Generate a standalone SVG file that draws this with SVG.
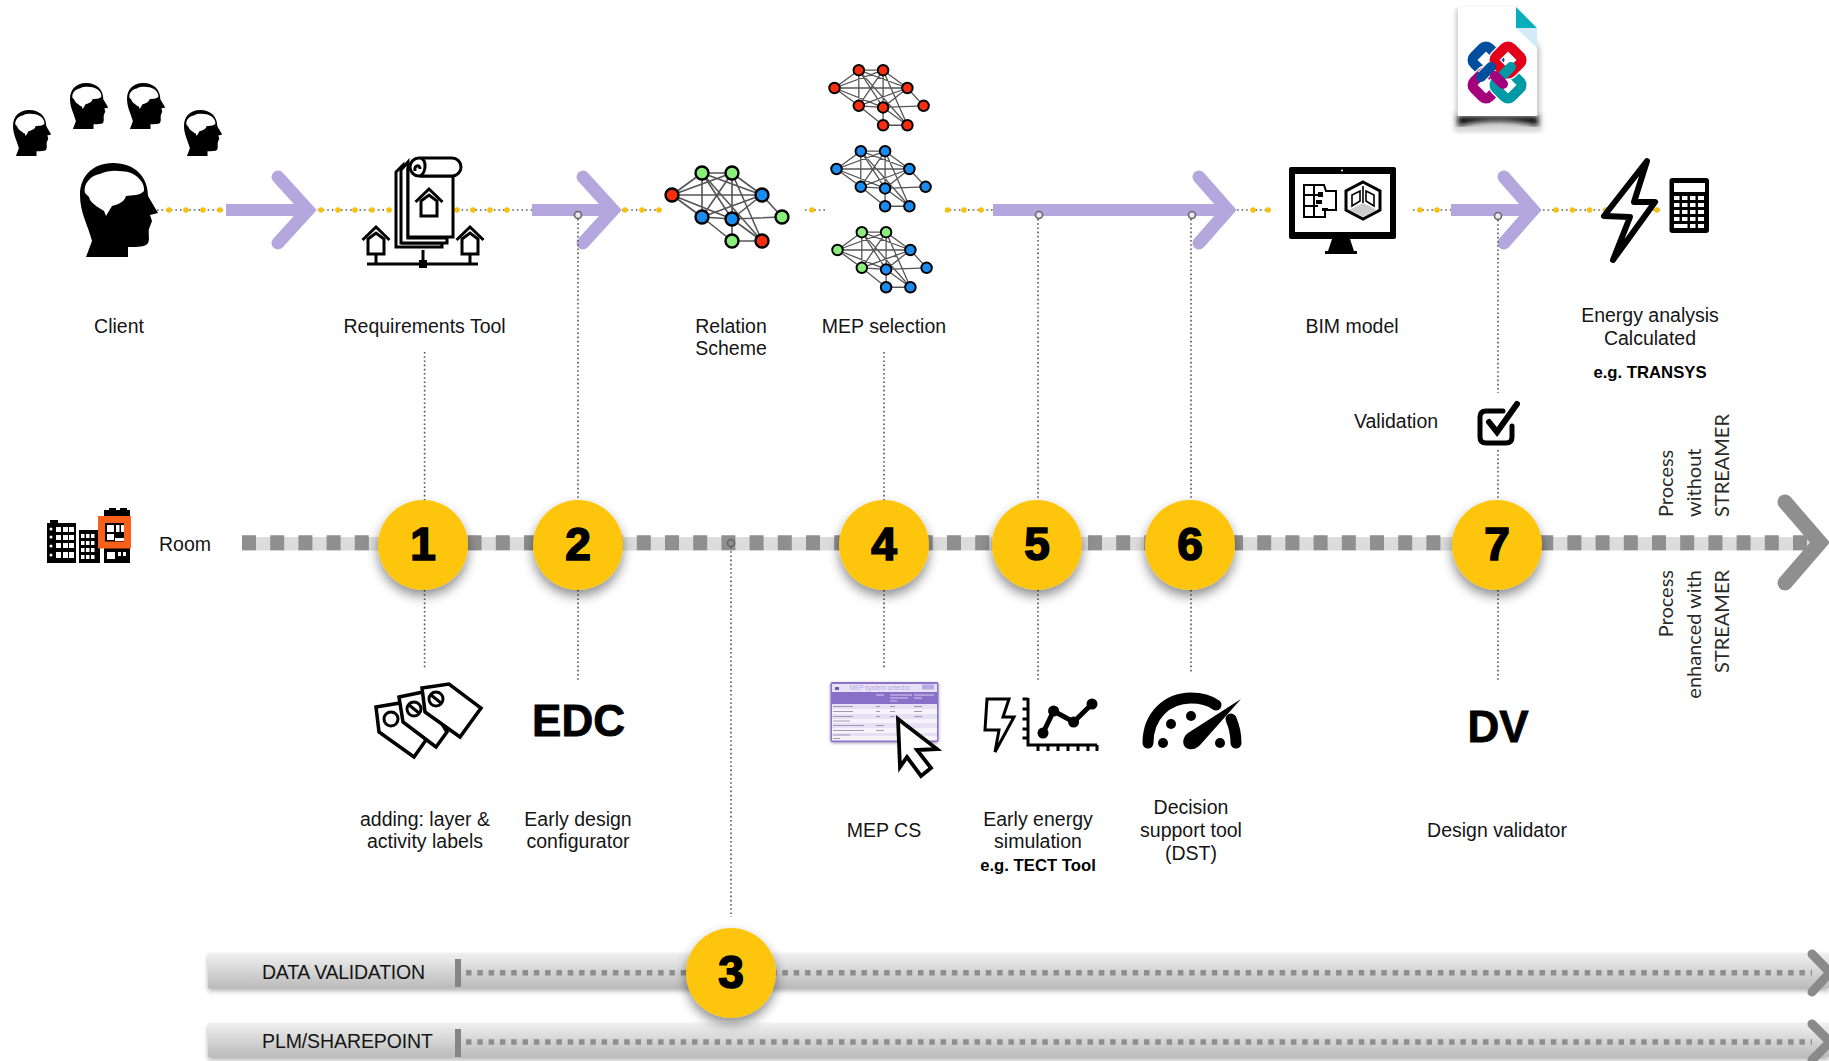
<svg xmlns="http://www.w3.org/2000/svg" xmlns:xlink="http://www.w3.org/1999/xlink" width="1829" height="1061" viewBox="0 0 1829 1061">
<style>
text{font-family:"Liberation Sans",Arial,sans-serif;fill:#151515;font-size:19.5px;text-anchor:middle}
.b{font-weight:700;font-size:16.7px;fill:#000}
.big{font-weight:700;font-size:44px;fill:#000;stroke:#000;stroke-width:.8}
.num{font-weight:700;font-size:46px;fill:#000;stroke:#000;stroke-width:1.7}
.rot{font-family:Lato,"Liberation Sans",sans-serif;font-size:20px;fill:#2a2a2a;font-weight:400}
.ctr{text-anchor:start}
.arrow{fill:none;stroke:#b4a7de;stroke-width:13;stroke-linecap:round;stroke-miterlimit:4}
.shaft{fill:#b4a7de}
.dotline{fill:none;stroke:#888;stroke-width:2;stroke-dasharray:1.6 3}
.yd{fill:#f9bf0f}
.vd{fill:none;stroke:#555;stroke-width:1.6;stroke-dasharray:1.6 2.6}
.hole{fill:#e9e5f5;stroke:#666;stroke-width:1.6}
.disc{fill:#fec50f;filter:url(#sh)}
.ln{fill:none;stroke:#000;stroke-width:3}
.wln{fill:#fff;stroke:#000;stroke-width:3;stroke-linejoin:miter}
.nr{fill:#fb2d0f}.ng{fill:#8aee7a}.nb{fill:#1a8cf0}
.net circle{stroke:#000;stroke-width:2.4}
.bar{fill:url(#barg);filter:url(#bsh)}
.bard{fill:none;stroke:#8e8e8e;stroke-width:5.5;stroke-dasharray:5.5 5.8}
.barc{fill:none;stroke:#8a8a8a;stroke-width:9;stroke-linecap:round}
.tick{fill:#858585}
.k{fill:#fff}
.bk{fill:#000}
.lk{fill:none;stroke-width:10}
.lw{fill:none;stroke:#fff;stroke-width:12.5}
</style>
<defs>
<linearGradient id="barg" x1="0" y1="0" x2="0" y2="1"><stop offset="0" stop-color="#f0f0f0"/><stop offset="1" stop-color="#bbb"/></linearGradient>
<filter id="sh" x="-30%" y="-30%" width="160%" height="170%"><feDropShadow dx="0" dy="6" stdDeviation="6" flood-color="#000" flood-opacity=".45"/></filter>
<filter id="bsh" x="-2%" y="-20%" width="104%" height="160%"><feDropShadow dx="0" dy="3" stdDeviation="2.5" flood-color="#000" flood-opacity=".3"/></filter>
<filter id="bl"><feGaussianBlur stdDeviation="2.5"/></filter>
<filter id="tsh" x="-10%" y="-10%" width="120%" height="130%"><feDropShadow dx="0" dy="1" stdDeviation="1.5" flood-color="#302060" flood-opacity=".5"/></filter>
<g id="head">
<path d="M6,94L48,94L48,84C58,84 66,84 68,80C70,76 68,70 69,66L72,58L70,52L78,50L68,33C68,14 55,0 33,0C12,0 0,14 0,32C0,50 8,62 12,78Z"/>
<path fill="#fff" d="M5,30C3,20 12,12 20,11C30,6 40,8 48,9C58,12 65,20 64,28C60,33 52,32 46,33C44,40 36,42 32,43L26,53L24,48C18,44 10,40 9,34Z"/>
</g>
<g id="house"><path class="ln" d="M-13.5,0L0,-13L13.5,0"/><path class="ln" d="M-8,-1L0,-7L8,-1V14H-8Z"/></g>
<path id="edges" fill="none" stroke="#555" stroke-width="1.6" d="M0,0L30,-22M0,0L60,-22M0,0L90,0M0,0L30,22M0,0L60,24M30,-22L60,-22M30,-22L90,0M30,-22L30,22M30,-22L60,24M30,-22L90,46M60,-22L90,0M60,-22L30,22M60,-22L60,24M60,-22L90,46M90,0L30,22M90,0L60,24M90,0L110,22M30,22L60,24M30,22L60,46M60,24L110,22M60,24L60,46M60,24L90,46M60,46L90,46"/>
</defs>
<rect width="1829" height="1061" fill="#fff"/>

<g id="connectors">
<g id="process-bars">
<rect class="bar" x="208" y="953" width="1621" height="35"/>
<rect class="bar" x="208" y="1023" width="1621" height="34"/>
<rect class="tick" x="455" y="959" width="6" height="28"/>
<rect class="tick" x="455" y="1029" width="6" height="28"/>
<path class="bard" d="M466,972.7H1812M466,1042H1812"/>
<path class="barc" d="M1812,954L1830,972.5L1812,992M1812,1024L1830,1042L1812,1060"/>
</g>
<g id="room-line">
<rect x="242" y="537" width="1570" height="13.5" fill="#dcdcdc"/>
<path fill="none" stroke="#8f8f8f" stroke-width="15" stroke-dasharray="14 14.2" d="M242,542.7H1810"/>
<path fill="none" stroke="#8f8f8f" stroke-width="15" stroke-linecap="round" stroke-miterlimit="4" d="M1785,502L1820,542.5L1785,583"/>
</g>
<path class="dotline" d="M157,210H226M318,210H392M457,210H532M622,210H661M805,210H827M945,210H993M1237,210H1274M1413,210H1451M1543,210H1660"/>
<g class="yd">
<circle cx="169" cy="210" r="2.8"/><circle cx="186" cy="210" r="2.8"/><circle cx="203" cy="210" r="2.8"/><circle cx="220" cy="210" r="2.8"/>
<circle cx="321" cy="210" r="2.8"/><circle cx="338" cy="210" r="2.8"/><circle cx="355" cy="210" r="2.8"/><circle cx="372" cy="210" r="2.8"/><circle cx="389" cy="210" r="2.8"/>
<circle cx="457" cy="210" r="2.8"/><circle cx="473" cy="210" r="2.8"/><circle cx="490" cy="210" r="2.8"/><circle cx="507" cy="210" r="2.8"/>
<circle cx="625" cy="210" r="2.8"/><circle cx="642" cy="210" r="2.8"/><circle cx="659" cy="210" r="2.8"/>
<circle cx="812" cy="210" r="2.8"/>
<circle cx="947.5" cy="210" r="2.8"/><circle cx="964" cy="210" r="2.8"/><circle cx="981" cy="210" r="2.8"/>
<circle cx="1253" cy="210" r="2.8"/><circle cx="1268" cy="210" r="2.8"/>
<circle cx="1420" cy="210" r="2.8"/><circle cx="1437" cy="210" r="2.8"/>
<circle cx="1556" cy="210" r="2.8"/><circle cx="1572.5" cy="210" r="2.8"/><circle cx="1589.6" cy="210" r="2.8"/><circle cx="1606" cy="210" r="2.8"/><circle cx="1657" cy="210" r="2.8"/>
</g>
<path class="shaft" d="M226,204H308V216H226ZM532,204H613V216H532ZM993,204H1228V216H993ZM1451,204H1533V216H1451Z"/>
<path class="arrow" d="M278,177L308,210L278,243M583,177L613,210L583,243M1199,177L1228,210L1199,243M1504,177L1533,210L1504,243"/>
<path class="vd" d="M424.6,352V500M424.6,590V668M578,219V500M578,590V682M731,547V917M884,352V500M884,590V668M1038,219V500M1038,590V682M1191,219V500M1191,590V673M1498,220V393M1498,450V500M1498,590V682"/>
<circle class="hole" cx="578" cy="215" r="3.5"/><circle class="hole" cx="1039" cy="215" r="3.5"/><circle class="hole" cx="1192" cy="215" r="3.5"/><circle class="hole" cx="1498" cy="216" r="3.5"/><circle class="hole" cx="731" cy="543" r="3.5" style="fill:none"/>
</g>

<g id="clients">
<use xlink:href="#head" href="#head" transform="translate(13,110) scale(.49)"/>
<use xlink:href="#head" href="#head" transform="translate(70,83) scale(.49)"/>
<use xlink:href="#head" href="#head" transform="translate(127,83) scale(.49)"/>
<use xlink:href="#head" href="#head" transform="translate(184,110) scale(.49)"/>
<use xlink:href="#head" href="#head" transform="translate(80,163)"/>
<text x="119" y="333">Client</text>
</g>

<g id="requirements-tool">
<path class="wln" d="M396,172L403,165V243H442V247H396Z"/>
<path class="wln" d="M401,170L408,162V238H447V243H401Z"/>
<path class="wln" d="M408,168V237H453V176H420"/>
<rect class="wln" x="410" y="158" width="51" height="18" rx="9"/>
<path class="ln" d="M421,158C427,161 426,173 420,176M415,171C414,165 420,164 420,169"/>
<use xlink:href="#house" href="#house" transform="translate(429,202)"/>
<use xlink:href="#house" href="#house" transform="translate(376,240)"/>
<use xlink:href="#house" href="#house" transform="translate(470,240)"/>
<path class="ln" d="M367,264H478M423,250V264M376,255V264M470,255V264"/>
<rect class="bk" x="419" y="260" width="8" height="8"/>
<text x="424.6" y="333">Requirements Tool</text>
</g>

<g id="relation-scheme" class="net">
<g transform="translate(672,195)"><use xlink:href="#edges" href="#edges"/>
<circle class="nr" r="6.5"/><circle class="ng" cx="30" cy="-22" r="6.5"/><circle class="ng" cx="60" cy="-22" r="6.5"/><circle class="nb" cx="90" r="6.5"/><circle class="nb" cx="30" cy="22" r="6.5"/><circle class="nb" cx="60" cy="24" r="6.5"/><circle class="ng" cx="110" cy="22" r="6.5"/><circle class="ng" cx="60" cy="46" r="6.5"/><circle class="nr" cx="90" cy="46" r="6.5"/></g>
<text x="731" y="333">Relation</text><text x="731" y="355">Scheme</text>
</g>

<g id="mep-selection" class="net">
<g transform="translate(834.5,88) scale(.81,.81)"><use xlink:href="#edges" href="#edges"/>
<circle class="nr" r="6.5"/><circle class="nr" cx="30" cy="-22" r="6.5"/><circle class="nr" cx="60" cy="-22" r="6.5"/><circle class="nr" cx="90" r="6.5"/><circle class="nr" cx="30" cy="22" r="6.5"/><circle class="nr" cx="60" cy="24" r="6.5"/><circle class="nr" cx="110" cy="22" r="6.5"/><circle class="nr" cx="60" cy="46" r="6.5"/><circle class="nr" cx="90" cy="46" r="6.5"/></g>
<g transform="translate(836.5,169) scale(.81,.81)"><use xlink:href="#edges" href="#edges"/>
<circle class="nb" r="6.5"/><circle class="nb" cx="30" cy="-22" r="6.5"/><circle class="nb" cx="60" cy="-22" r="6.5"/><circle class="nb" cx="90" r="6.5"/><circle class="nb" cx="30" cy="22" r="6.5"/><circle class="nb" cx="60" cy="24" r="6.5"/><circle class="nb" cx="110" cy="22" r="6.5"/><circle class="nb" cx="60" cy="46" r="6.5"/><circle class="nb" cx="90" cy="46" r="6.5"/></g>
<g transform="translate(837.5,250) scale(.81,.81)"><use xlink:href="#edges" href="#edges"/>
<circle class="ng" r="6.5"/><circle class="ng" cx="30" cy="-22" r="6.5"/><circle class="ng" cx="60" cy="-22" r="6.5"/><circle class="nb" cx="90" r="6.5"/><circle class="ng" cx="30" cy="22" r="6.5"/><circle class="nb" cx="60" cy="24" r="6.5"/><circle class="nb" cx="110" cy="22" r="6.5"/><circle class="nb" cx="60" cy="46" r="6.5"/><circle class="nb" cx="90" cy="46" r="6.5"/></g>
<text x="884" y="333">MEP selection</text>
</g>

<g id="bim-model">
<rect class="bk" x="1289" y="167" width="107" height="72" rx="2"/>
<rect class="k" x="1295" y="174" width="95" height="58"/>
<circle class="k" cx="1342" cy="170.5" r="1"/>
<path class="bk" d="M1332,239H1350L1354,251H1357V254H1325V251H1328Z"/>
<path fill="#fff" stroke="#000" stroke-width="2" d="M1304,185H1324L1326,191H1336V210H1325V217H1304ZM1304,195H1318M1304,206H1318M1314,185V217"/>
<path class="bk" d="M1318,192h5v5h-5zM1316,200h6v4h-6zM1322,208h6v3h-6z"/>
<path fill="#fff" stroke="#000" stroke-width="3" d="M1363,182L1380,191V210L1363,219L1346,210V191Z"/>
<path fill="#ccc" stroke="none" d="M1349,210L1363,203L1377,210L1363,217Z"/>
<path style="fill:none;stroke:#000;stroke-width:1.6" d="M1363,186V203M1352,195L1360,191V201L1352,206ZM1366,191L1374,195V206L1366,201Z"/>
<text x="1352" y="333">BIM model</text>
</g>

<g id="ifc-file">
<path d="M1454,113H1542V132H1454Z" fill="#888" opacity=".35" filter="url(#bl)"/>
<path d="M1458,116H1538V126Q1498,116 1458,126Z" fill="#111" filter="url(#bl)"/>
<path d="M1456,9H1516L1540,48V116H1456Z" fill="#777" opacity=".4" filter="url(#bl)"/>
<path fill="#fff" d="M1458,7H1516L1537,48V116H1458Z"/>
<path fill="#d3ebf8" d="M1516,28H1537V48Z"/>
<path fill="#09aebd" d="M1516,7L1537,28H1516Z"/>
<rect class="lk" x="1475" y="49" width="22" height="22" rx="5" transform="rotate(45 1486 60)" stroke="#004f9f"/>
<rect class="lw" x="1475" y="74" width="22" height="22" rx="5" transform="rotate(45 1486 85)"/>
<rect class="lk" x="1475" y="74" width="22" height="22" rx="5" transform="rotate(45 1486 85)" stroke="#a4007c"/>
<rect class="lw" x="1497" y="74" width="22" height="22" rx="5" transform="rotate(45 1508 85)"/>
<rect class="lk" x="1497" y="74" width="22" height="22" rx="5" transform="rotate(45 1508 85)" stroke="#009aa6"/>
<rect class="lw" x="1497" y="49" width="22" height="22" rx="5" transform="rotate(45 1508 60)"/>
<rect class="lk" x="1497" y="49" width="22" height="22" rx="5" transform="rotate(45 1508 60)" stroke="#e2001a"/>
<path fill="none" stroke="#fff" stroke-width="12" d="M1482,76L1490,68"/>
<path fill="none" stroke="#004f9f" stroke-width="10" stroke-linecap="round" d="M1481,77L1491,67"/>
<path fill="none" stroke="#009aa6" stroke-width="10" stroke-linecap="round" d="M1503,75L1511,67"/>
<path fill="none" stroke="#a4007c" stroke-width="10" stroke-linecap="round" d="M1495,76L1503,84"/>
</g>

<g id="energy-analysis">
<path fill="#fff" stroke="#000" stroke-width="6" stroke-linejoin="round" d="M1647,161L1604,216L1630,217L1613,260L1655,202L1634,202Z"/>
<rect class="bk" x="1669.5" y="178" width="39.5" height="55" rx="3"/>
<rect class="k" x="1674" y="183" width="31" height="9"/>
<g class="k"><rect x="1674" y="196" width="5.5" height="4"/><rect x="1682" y="196" width="5.5" height="4"/><rect x="1690" y="196" width="5.5" height="4"/><rect x="1698" y="196" width="6" height="4"/>
<rect x="1674" y="203" width="5.5" height="4"/><rect x="1682" y="203" width="5.5" height="4"/><rect x="1690" y="203" width="5.5" height="4"/><rect x="1698" y="203" width="6" height="4"/>
<rect x="1674" y="210" width="5.5" height="4"/><rect x="1682" y="210" width="5.5" height="4"/><rect x="1690" y="210" width="5.5" height="4"/><rect x="1698" y="210" width="6" height="4"/>
<rect x="1674" y="217" width="5.5" height="4"/><rect x="1682" y="217" width="5.5" height="4"/><rect x="1690" y="217" width="5.5" height="4"/><rect x="1698" y="217" width="6" height="4"/>
<rect x="1674" y="224" width="13.5" height="4"/><rect x="1690" y="224" width="5.5" height="4"/><rect x="1698" y="224" width="6" height="4"/></g>
<text x="1650" y="321.5">Energy analysis</text><text x="1650" y="344.5">Calculated</text>
<text class="b" x="1650" y="378">e.g. TRANSYS</text>
</g>

<g id="validation">
<text x="1396" y="427.5">Validation</text>
<path fill="none" stroke="#000" stroke-width="5" stroke-linecap="round" d="M1503,411H1486Q1480,411 1480,417V437Q1480,443 1486,443H1506Q1512,443 1512,437V426"/>
<path fill="none" stroke="#000" stroke-width="6" stroke-linecap="round" stroke-linejoin="miter" d="M1489,422L1497,432L1517,404"/>
</g>

<g id="room">
<g class="bk"><rect x="47" y="523" width="29" height="40"/><rect x="50" y="520" width="8" height="4"/><rect x="79" y="530" width="21" height="33"/><rect x="104" y="510" width="26" height="53"/><rect x="109" y="508" width="7" height="3"/><rect x="120" y="508" width="7" height="3"/></g>
<g class="k"><rect x="56" y="527" width="5" height="5"/><rect x="63" y="527" width="5" height="5"/><rect x="69" y="527" width="5" height="5"/><rect x="56" y="535" width="5" height="5"/><rect x="63" y="535" width="5" height="5"/><rect x="69" y="535" width="5" height="5"/><rect x="56" y="543" width="5" height="5"/><rect x="63" y="543" width="5" height="5"/><rect x="69" y="543" width="5" height="5"/><rect x="56" y="552" width="5" height="6"/><rect x="63" y="552" width="5" height="6"/><rect x="69" y="552" width="5" height="6"/>
<circle cx="51" cy="529" r="1.5"/><circle cx="51" cy="537" r="1.5"/><circle cx="51" cy="546" r="1.5"/><circle cx="51" cy="555" r="1.5"/>
<rect x="81" y="534" width="3.5" height="4"/><rect x="86" y="534" width="3.5" height="4"/><rect x="91" y="534" width="3.5" height="4"/><rect x="81" y="541" width="3.5" height="4"/><rect x="86" y="541" width="3.5" height="4"/><rect x="91" y="541" width="3.5" height="4"/><rect x="81" y="548" width="3.5" height="4"/><rect x="86" y="548" width="3.5" height="4"/><rect x="91" y="548" width="3.5" height="4"/><rect x="81" y="555" width="3.5" height="4"/><rect x="86" y="555" width="3.5" height="4"/><rect x="91" y="555" width="3.5" height="4"/>
<rect x="107" y="552" width="8" height="7"/><rect x="118" y="552" width="3" height="4"/><rect x="123" y="552" width="3" height="4"/></g>
<rect x="101.5" y="519.5" width="26" height="25.5" fill="none" stroke="#f9611a" stroke-width="7"/>
<rect class="k" x="107" y="525" width="7" height="7"/><rect class="k" x="116" y="525" width="3.5" height="7"/><rect class="k" x="121" y="525" width="3" height="7"/><rect class="k" x="107" y="534" width="7" height="6"/><rect class="k" x="115" y="538" width="9" height="3"/>
<text x="159" y="551" class="ctr">Room</text>
</g>

<g id="step-1"><circle class="disc" cx="423" cy="545" r="45"/><text class="num" x="423" y="560">1</text></g>
<g id="step-2"><circle class="disc" cx="578" cy="545" r="45"/><text class="num" x="578" y="560">2</text></g>
<g id="step-3"><circle class="disc" cx="731" cy="973" r="45"/><text class="num" x="731" y="988">3</text></g>
<g id="step-4"><circle class="disc" cx="884" cy="545" r="45"/><text class="num" x="884" y="560">4</text></g>
<g id="step-5"><circle class="disc" cx="1037" cy="545" r="45"/><text class="num" x="1037" y="560">5</text></g>
<g id="step-6"><circle class="disc" cx="1190" cy="545" r="45"/><text class="num" x="1190" y="560">6</text></g>
<g id="step-7"><circle class="disc" cx="1497" cy="545" r="45"/><text class="num" x="1497" y="560">7</text></g>

<g id="labels-tool">
<path class="wln" style="stroke-width:3.5" d="M376,707L400,703L426,740L414,757L379,732Z"/>
<circle class="ln" cx="391" cy="719" r="7"/>
<path class="wln" style="stroke-width:3.5" d="M399,697L423,692L447,732L436,747L403,722Z"/>
<circle class="ln" cx="414" cy="709" r="7"/><path class="ln" d="M409,705L419,713"/>
<path class="wln" style="stroke-width:3.5" d="M422,688L449,684L481,708L460,737L425,712Z"/>
<circle class="ln" cx="436" cy="699" r="7"/><path class="ln" d="M431,695L441,703"/>
<text x="425" y="826">adding: layer &amp;</text><text x="425" y="848">activity labels</text>
</g>

<g id="edc">
<text class="big" x="578.5" y="736">EDC</text>
<text x="578" y="826">Early design</text><text x="578" y="848">configurator</text>
</g>

<g id="mep-cs">
<g filter="url(#tsh)"><rect x="830.5" y="682" width="108" height="60" rx="2" fill="#8c72c8"/></g>
<rect x="832" y="684" width="105" height="8" fill="#e8e2f6"/>
<rect x="832" y="692" width="105" height="12" fill="#8a6fc9"/>
<rect x="832" y="704" width="105" height="5" fill="#e6e0f5"/><rect x="832" y="709" width="105" height="5" fill="#f6f3fc"/><rect x="832" y="714" width="105" height="5" fill="#e6e0f5"/><rect x="832" y="719" width="105" height="4" fill="#f6f3fc"/><rect x="832" y="723" width="105" height="5" fill="#e6e0f5"/><rect x="832" y="728" width="105" height="5" fill="#f6f3fc"/><rect x="832" y="733" width="105" height="3" fill="#e6e0f5"/><rect x="832" y="736" width="105" height="4.5" fill="#f6f3fc"/>
<path stroke="#a098b8" stroke-width="1" d="M833,706.5H853M833,711.5H853M833,716.5H853M833,721H850M833,725.5H864M833,730.5H864M833,735H850M833,738.5H840M876,706.5H880M876,711.5H880M876,716.5H880M876,725.5H884M876,730.5H884M890,706.5H895M890,711.5H895M890,716.5H895M914,706.5H922M914,711.5H922M914,716.5H922"/>
<path stroke="#d8cff0" stroke-width="1" d="M876,695H884M890,695H912M890,698H908M890,701H897M914,695H934M914,698H922"/>
<path d="M835,687h4v3h-4z" fill="#6f55b0"/>
<text x="880" y="690" style="font-size:6.5px;fill:#b9a8e6">MEP system selector</text>
<path d="M922,684.5h12v5h-12z" fill="#b9a8e6"/>
<path fill="#fff" stroke="#000" stroke-width="3.8" stroke-linejoin="miter" d="M898,719L937,749L917,750L931,768L921,776L907,757L900,767Z"/>
<text x="884" y="837">MEP CS</text>
</g>

<g id="energy-sim">
<path fill="none" stroke="#000" stroke-width="3" stroke-linejoin="miter" d="M987,699H1009L1003,717H1014L995,752L999,730H985Z"/>
<path class="ln" d="M1028,698V745H1097M1022.5,699H1028M1022.5,709H1028M1022.5,719H1028M1022.5,729H1028M1022.5,738H1028M1038,745V751M1048,745V751M1058,745V751M1068,745V751M1078,745V751M1088,745V751M1097,745V751"/>
<path fill="none" stroke="#000" stroke-width="5" d="M1043,733L1053.6,711L1073.6,722L1092,704"/>
<circle class="bk" cx="1043" cy="733" r="5.5"/><circle class="bk" cx="1053.6" cy="711" r="5.5"/><circle class="bk" cx="1073.6" cy="722" r="5.5"/><circle class="bk" cx="1092" cy="704" r="5.5"/>
<text x="1038" y="826">Early energy</text><text x="1038" y="848">simulation</text>
<text class="b" x="1038" y="871">e.g. TECT Tool</text>
</g>

<g id="dst">
<path fill="none" stroke="#000" stroke-width="11" stroke-linecap="round" d="M1148,743C1148,716 1167,698 1191,698C1201,698 1209,700 1216,705M1231,719C1234,726 1236,734 1236,743"/>
<circle class="bk" cx="1163" cy="743" r="5"/><circle class="bk" cx="1171" cy="724" r="5"/><circle class="bk" cx="1191" cy="716" r="5"/><circle class="bk" cx="1220" cy="743" r="5"/>
<path class="bk" d="M1241,699L1188,733C1181,738 1182,748 1189,749C1195,750 1198,747 1201,744Z"/>
<text x="1191" y="814">Decision</text><text x="1191" y="837">support tool</text><text x="1191" y="860">(DST)</text>
</g>

<g id="dv">
<text class="big" x="1498" y="742">DV</text>
<text x="1497" y="837">Design validator</text>
</g>

<g id="process-labels">
<g transform="translate(1672.7,517) rotate(-90)"><text class="rot ctr">Process</text></g>
<g transform="translate(1700.7,517) rotate(-90)"><text class="rot ctr">without</text></g>
<g transform="translate(1728.5,517) rotate(-90)"><text class="rot ctr">STREAMER</text></g>
<g transform="translate(1672.7,570) rotate(-90)"><text class="rot" style="text-anchor:end">Process</text></g>
<g transform="translate(1700.7,570) rotate(-90)"><text class="rot" style="text-anchor:end">enhanced with</text></g>
<g transform="translate(1728.5,570) rotate(-90)"><text class="rot" style="text-anchor:end">STREAMER</text></g>
</g>

<g id="data-validation"><text class="ctr" x="262" y="979" style="letter-spacing:-.25px">DATA VALIDATION</text></g>
<g id="plm-sharepoint"><text class="ctr" x="262" y="1048" style="letter-spacing:-.1px">PLM/SHAREPOINT</text></g>
</svg>
